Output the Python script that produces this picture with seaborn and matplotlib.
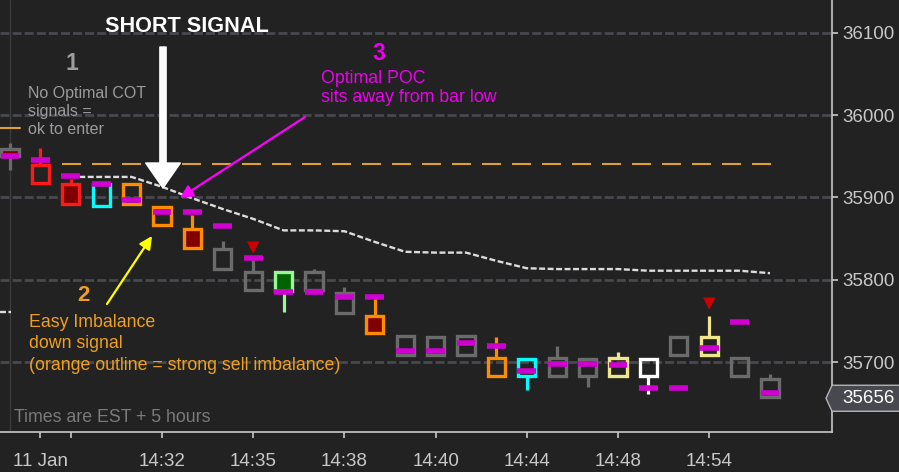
import matplotlib
matplotlib.use('Agg')
import matplotlib.pyplot as plt
from matplotlib.patches import Polygon
import numpy as np
import seaborn as sns

# one entry per bar (price points)
bar_idx = list(range(26))
box_top = [35959, 35940, 35916, 35916, 35916, 35888, 35862, 35837, 35809, 35810, 35810, 35784, 35756,
           35732, 35730, 35732, 35705, 35704, 35705, 35704, 35705, 35704, 35730, 35731, 35705, 35680]
box_bot = [35950, 35917, 35892, 35890, 35892, 35866, 35839, 35813, 35787, 35786, 35787, 35760, 35735,
           35708, 35708, 35708, 35683, 35683, 35683, 35683, 35683, 35683, 35708, 35709, 35683, 35658]
wick_hi = [35966, 35960, 35922, 35916, 35916, 35888, 35879, 35847, 35824, 35810, 35813, 35791, 35781,
           35732, 35730, 35732, 35730, 35704, 35719, 35704, 35712, 35704, 35730, 35756, 35705, 35685]
wick_lo = [35933, 35917, 35892, 35890, 35892, 35866, 35839, 35813, 35787, 35761, 35787, 35760, 35735,
           35708, 35708, 35708, 35683, 35666, 35683, 35670, 35683, 35661, 35708, 35709, 35683, 35658]
poc = [35950, 35946, 35926, 35916, 35897, 35882, 35882, 35865, 35826, 35785, 35785, 35779, 35779,
       35713, 35713, 35723, 35719, 35689, 35698, 35698, 35696, 35668, 35668, 35717, 35749, 35662]
outline = ['gray', 'red', 'red', 'cyan', 'orange', 'orange', 'orange', 'gray', 'gray', 'green', 'gray',
           'gray', 'orange', 'gray', 'gray', 'gray', 'orange', 'cyan', 'gray', 'gray', 'khaki', 'white',
           'gray', 'khaki', 'gray', 'gray']
body = ['darkred', 'none', 'darkred', 'none', 'none', 'none', 'darkred', 'none', 'none', 'darkgreen',
        'none', 'none', 'darkred', 'none', 'none', 'none', 'none', 'none', 'none', 'none', 'none', 'none',
        'none', 'none', 'none', 'none']

vwap_idx = list(range(2, 26))
vwap = [35925, 35925, 35925, 35913, 35899, 35886, 35874, 35860, 35860, 35859, 35846, 35834, 35833,
        35833, 35823, 35814, 35813, 35813, 35813, 35811, 35811, 35811, 35811, 35808]

signal_idx = [8, 23]
signal_price = [35839, 35771]

cot_level = 35941
prev_vwap = 35761
last_price = 35656

tick_pos = [1, 2, 5, 8, 11, 14, 17, 20, 23]
tick_labels = ['11 Jan', '', '14:32', '14:35', '14:38', '14:40', '14:44', '14:48', '14:54']
price_ticks = [35700, 35800, 35900, 36000, 36100]

edge_colors = {'gray': '#6b6b6b', 'red': '#ff1a1a', 'cyan': '#00ffff', 'orange': '#ff8c00',
               'green': '#98f598', 'khaki': '#f0e68c', 'white': '#ffffff'}
body_colors = {'none': 'none', 'darkred': '#800000', 'darkgreen': '#006400'}

bg = '#222222'
sns.set_theme(style='dark', rc={'axes.facecolor': bg, 'figure.facecolor': bg, 'axes.grid': False})
plt.rcParams['font.family'] = ['Liberation Sans', 'DejaVu Sans']
plt.rcParams['lines.scale_dashes'] = False

W, H = 832, 432  # plot area in pixels


def frac(px, py):
    return px / W, 1 - py / H


fig = plt.figure(figsize=(8.99, 4.72), dpi=100)
ax = fig.add_axes([0, 40 / 472, W / 899, H / 472])
ax.set_xlim(-10 / 30.4, (W - 10) / 30.4)
ax.set_ylim(35615, 36140)

for p in price_ticks:
    ax.axhline(p, color='#48484f', lw=2, linestyle=(0, (6.5, 2.2)), zorder=0)
ax.axvline(0, color='#3a3a3a', lw=1, zorder=0)

# levels
ax.hlines(cot_level, 1.71, 25.33, color='#e0a030', lw=1.5, linestyles=[(0, (13.7, 7.9))], zorder=1)
ax.hlines(prev_vwap, -0.33, 0.02, color='#dcdcdc', lw=1.7, linestyles=[(0, (4.3, 1.8))], zorder=1)
sns.lineplot(x=vwap_idx, y=vwap, ax=ax, color='#dcdcdc', lw=1.7, linestyle=(0, (4.3, 1.8)),
             estimator=None, zorder=2)

# candles
ec = [edge_colors[c] for c in outline]
fc = [body_colors[c] for c in body]
ax.vlines(bar_idx, box_top, wick_hi, colors=ec, lw=2.3, zorder=2)
ax.vlines(bar_idx, wick_lo, box_bot, colors=ec, lw=2.3, zorder=2)
ax.bar(bar_idx, np.subtract(box_top, box_bot), bottom=box_bot, width=0.56, color=fc,
       edgecolor=ec, linewidth=2.4, zorder=3)
ax.hlines(poc, np.subtract(bar_idx, 0.31), np.add(bar_idx, 0.31), colors='#d000d0', lw=4,
          capstyle='butt', zorder=4)
sns.scatterplot(x=signal_idx, y=signal_price, marker='v', s=80, color='#cc0000', edgecolor='none',
                ax=ax, zorder=5, legend=False)

# axes
for s in ['left', 'top']:
    ax.spines[s].set_visible(False)
for s in ['right', 'bottom']:
    ax.spines[s].set_visible(True)
    ax.spines[s].set_color('#c8c8c8')
    ax.spines[s].set_linewidth(1.2)
ax.yaxis.tick_right()
ax.set_yticks(price_ticks)
ax.set_xticks(tick_pos)
ax.set_xticklabels(tick_labels)
ax.tick_params(axis='y', right=True, left=False, length=4, width=1.2, color='#c8c8c8',
               labelcolor='#c8c8c8', labelsize=13.5, pad=3.6)
ax.tick_params(axis='x', bottom=True, length=4, width=1.2, color='#c8c8c8',
               labelcolor='#c8c8c8', labelsize=13.5, pad=11)
ax.set_xlabel('')
ax.set_ylabel('')

# last price tag
tr = ax.get_yaxis_transform()
h = 15.8
ax.add_patch(Polygon([(826 / W, last_price), (1, last_price + h), (1.1, last_price + h),
                      (1.1, last_price - h), (1, last_price - h)], closed=True, transform=tr,
                     clip_on=False, facecolor='#484850', edgecolor='#b4b4b4', lw=1, zorder=6))
ax.text(869 / W, last_price, f'{last_price}', transform=tr, ha='center', va='center',
        color='white', fontsize=13.5, zorder=7, clip_on=False)

# annotations
ta = ax.transAxes
ax.text(*frac(187, 32), 'SHORT SIGNAL', transform=ta, ha='center', va='baseline',
        fontsize=15.6, weight='bold', color='white')
ax.annotate('', xy=frac(163, 188), xytext=frac(163, 47), xycoords='axes fraction',
            arrowprops=dict(facecolor='white', edgecolor='white', width=4.5, headwidth=25,
                            headlength=18, shrink=0))

gray_txt = '#9c9c9c'
ax.text(*frac(72, 70), '1', transform=ta, ha='center', va='baseline', fontsize=16.5,
        weight='bold', color=gray_txt)
for i, line in enumerate(['No Optimal COT', 'signals =', 'ok to enter']):
    ax.text(*frac(28, 98 + 18 * i), line, transform=ta, va='baseline', fontsize=11.5, color=gray_txt)
ax.plot([0, 20 / W], [1 - 128 / H] * 2, transform=ta, color='#e0a030', lw=1.5)

mag_txt = '#ee00ee'
ax.text(*frac(379, 60), '3', transform=ta, ha='center', va='baseline', fontsize=16.5,
        weight='bold', color=mag_txt)
for i, line in enumerate(['Optimal POC', 'sits away from bar low']):
    ax.text(*frac(321, 83 + 19.5 * i), line, transform=ta, va='baseline', fontsize=12.8, color=mag_txt)
ax.annotate('', xy=frac(180, 198), xytext=frac(305, 117), xycoords='axes fraction',
            arrowprops=dict(arrowstyle='-|>', color='#ff00ff', lw=1.6, mutation_scale=19,
                            shrinkA=0, shrinkB=0))

org_txt = '#f0a020'
ax.text(*frac(83, 301), '2', transform=ta, ha='center', va='baseline', fontsize=16,
        weight='bold', color=org_txt)
for i, line in enumerate(['Easy Imbalance', 'down signal', '(orange outline = strong sell imbalance)']):
    ax.text(*frac(29, 327 + 21.5 * i), line, transform=ta, va='baseline', fontsize=12.8, color=org_txt)
ax.annotate('', xy=frac(152, 236), xytext=frac(107, 304), xycoords='axes fraction',
            arrowprops=dict(arrowstyle='-|>', color='#ffff00', lw=1.6, mutation_scale=19,
                            shrinkA=0, shrinkB=0))

ax.text(*frac(14, 422), 'Times are EST + 5 hours', transform=ta, va='baseline', fontsize=12.8,
        color='#7a7a7a')

fig.savefig('out.png', dpi=100, facecolor=bg)
